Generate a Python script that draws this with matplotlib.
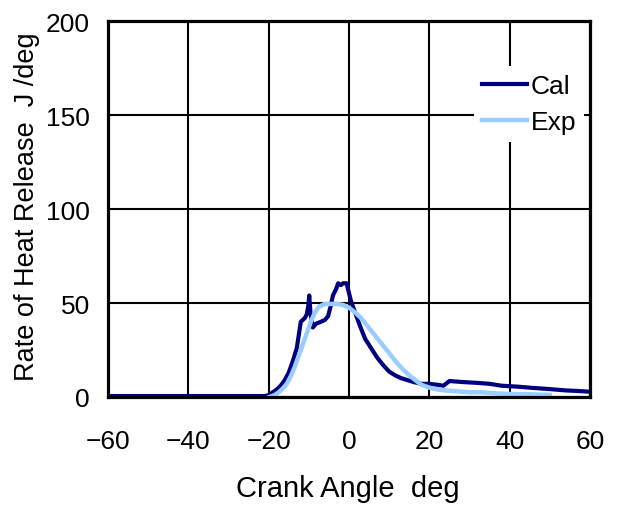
import matplotlib
matplotlib.use('Agg')
import matplotlib.pyplot as plt

plt.rcParams['font.family'] = ['Liberation Sans', 'DejaVu Sans']

# calculated rate of heat release (J/deg) vs crank angle (deg)
cal_angle = [-60, -21, -20, -19, -18, -17, -16, -15, -14, -13, -12.5, -12, -11, -10.5,
             -10.1, -9.9, -9.6, -9.0, -8.2, -7, -6, -5.2, -4.6, -4, -3.2, -2.7, -2.0, -1.5,
             -0.6, -0.2, 0.5, 1.5, 2.7, 4, 5.5, 7, 8.5, 10, 11.5, 13, 14.5, 16, 18, 20,
             22, 23.5, 25, 28, 32, 35, 38, 42, 46, 50, 54, 57, 60]
cal_rhr = [0.5, 0.5, 1, 2.5, 4, 6, 9, 13, 19, 26, 33, 40, 42, 44,
           49, 54, 45, 37, 39, 40, 41, 43, 48, 54, 57.5, 60.5, 59.5, 60.5,
           60.5, 57, 51, 45, 38, 31, 26, 21, 17, 13.5, 11.5, 10, 9, 8, 7, 7,
           6.5, 6, 8.5, 8, 7.5, 7, 6, 5.5, 4.8, 4.2, 3.5, 3.2, 2.8]

# experimental rate of heat release
exp_angle = [-19.8, -18.5, -17.5, -16.5, -15.5, -14.5, -13.5, -12.5, -11.5, -10.5, -9.5,
             -8.5, -7.5, -6, -4.5, -3, -1.5, 0, 1.5, 3, 4.5, 6, 7.5, 9, 10.5, 12, 13.5,
             15, 16.5, 18, 20, 22, 24, 27, 30, 33, 36, 40, 44, 47, 50]
exp_rhr = [0, 1, 2.5, 4.5, 7, 11, 16, 22, 28, 34, 40,
           45, 48, 49.5, 49.5, 49.5, 49, 47.5, 45, 42, 38, 34, 30, 26, 22, 18, 14.5,
           11.5, 9, 6.5, 5, 4, 3.5, 3, 2.5, 2.5, 2, 1.6, 1.5, 1.3, 1.1]

xticks = [-60, -40, -20, 0, 20, 40, 60]
xtick_labels = ['\u221260', '\u221240', '\u221220', '0', '20', '40', '60']
yticks = [0, 50, 100, 150, 200]
ytick_labels = ['0', '50', '100', '150', '200']

fig = plt.figure(figsize=(6.19, 5.10), dpi=100)
ax = fig.add_axes([108 / 619, 1 - 398 / 510, 482 / 619, 376 / 510])

ax.plot(cal_angle, cal_rhr, color='#000080', lw=3, label='Cal')
ax.plot(exp_angle, exp_rhr, color='#99ccff', lw=3.2, label='Exp')

ax.set_xlim(-60, 60)
ax.set_ylim(0, 200)
ax.set_xticks(xticks)
ax.set_xticklabels(xtick_labels)
ax.set_yticks(yticks)
ax.set_yticklabels(ytick_labels)
ax.tick_params(axis='x', length=0, pad=23, labelsize=19)
ax.tick_params(axis='y', length=0, pad=13, labelsize=19)
ax.grid(True, color='black', lw=1.5)
ax.set_axisbelow(True)
for s in ax.spines.values():
    s.set_linewidth(2.3)
    s.set_zorder(5)

leg = ax.legend(loc='upper left', bbox_to_anchor=(0.759, 0.88), fontsize=19,
                handlelength=1.7, handletextpad=0.15, labelspacing=0.45,
                borderpad=0.3, borderaxespad=0, frameon=True, fancybox=False,
                framealpha=1, facecolor='white', edgecolor='none')

fig.text(347.5 / 619, 1 - 489 / 510, 'Crank Angle  deg', fontsize=21,
         ha='center', va='center')
fig.text(27 / 619, 1 - 207 / 510, 'Rate of Heat Release  J /deg', fontsize=19.5,
         rotation=90, ha='center', va='center')

plt.savefig('out.png', dpi=100)
